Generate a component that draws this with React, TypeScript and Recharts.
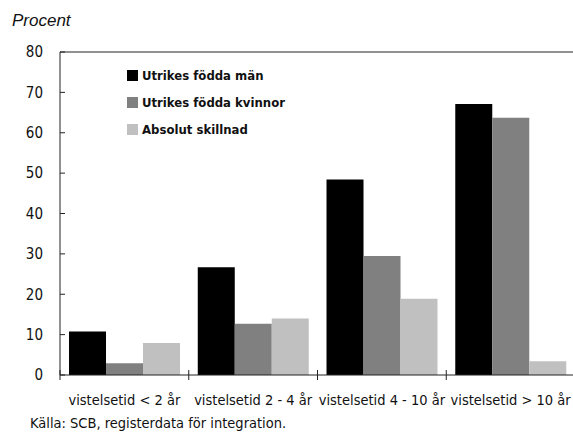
import React from 'react';
import { BarChart, Bar, XAxis, YAxis, Legend, ReferenceLine } from 'recharts';

const categories = ['vistelsetid < 2 år', 'vistelsetid 2 - 4 år', 'vistelsetid 4 - 10 år', 'vistelsetid > 10 år'];
const men = [10.8, 26.7, 48.4, 67.1];
const women = [2.9, 12.7, 29.5, 63.7];
const diff = [7.9, 14.0, 18.9, 3.4];
const yTicks = [0, 10, 20, 30, 40, 50, 60, 70, 80];
const seriesNames = ['Utrikes födda män', 'Utrikes födda kvinnor', 'Absolut skillnad'];
const yTitle = 'Procent';
const source = 'Källa: SCB, registerdata för integration.';

const data = categories.map((c, i) => ({ cat: c, men: men[i], women: women[i], diff: diff[i] }));

const FONT = "'DejaVu Sans Condensed', 'DejaVu Sans', sans-serif";
const AXIS = '#222';

const CatTick = (props: any) => {
  const { x, y, payload } = props;
  const off = payload && typeof payload.offset === 'number' ? payload.offset : 0;
  return (
    <g>
      <line x1={x - off} x2={x - off} y1={y - 5} y2={y + 5} stroke={AXIS} strokeWidth={1} />
      <text x={x} y={y + 30} textAnchor="middle" fontFamily={FONT} fontStretch="condensed" fontSize={14.5} fill="#111">
        {payload.value}
      </text>
    </g>
  );
};

const LegendContent = (props: any) => {
  const items = [...(props.payload || [])].sort(
    (a: any, b: any) => seriesNames.indexOf(a.value) - seriesNames.indexOf(b.value)
  );
  return (
    <div style={{ fontFamily: FONT, fontStretch: 'condensed', fontWeight: 'bold', fontSize: 13, color: '#111' }}>
      {items.map((p: any, i: number) => (
        <div key={i} style={{ display: 'flex', alignItems: 'center', height: 27 }}>
          <span style={{ display: 'inline-block', width: 11, height: 11, background: p.color, marginRight: 4 }} />
          <span>{p.value}</span>
        </div>
      ))}
    </div>
  );
};

export default function App() {
  return (
    <div style={{ position: 'absolute', left: 0, top: 0, width: 573, height: 432, overflow: 'hidden', background: '#fff' }}>
      <div style={{ position: 'absolute', left: 12, top: 11, fontFamily: "'Liberation Sans', Arial, sans-serif", fontStyle: 'italic', fontSize: 17, color: '#111', lineHeight: '20px' }}>
        {yTitle}
      </div>
      <BarChart
        width={576}
        height={432}
        data={data}
        margin={{ top: 52, right: 1, left: 0, bottom: 0 }}
        barCategoryGap="7%"
        barGap={0}
      >
        <XAxis
          dataKey="cat"
          interval={0}
          height={57}
          tickSize={0}
          tickMargin={0}
          tickLine={false}
          axisLine={{ stroke: AXIS }}
          tick={<CatTick />}
        />
        <YAxis
          width={60}
          domain={[0, 80]}
          ticks={yTicks}
          interval={0}
          tickSize={-5}
          tickMargin={22}
          axisLine={{ stroke: AXIS }}
          tickLine={{ stroke: AXIS }}
          tick={{ fontFamily: FONT, fontSize: 15, fill: '#111' }}
        />
        <ReferenceLine y={80} stroke={AXIS} />
        <Legend
          layout="vertical"
          align="center"
          verticalAlign="middle"
          itemSorter={null as any}
          wrapperStyle={{ left: 127, top: 62, width: 220 }}
          content={<LegendContent />}
        />
        <Bar dataKey="men" name={seriesNames[0]} fill="#000000" isAnimationActive={false} />
        <Bar dataKey="women" name={seriesNames[1]} fill="#808080" isAnimationActive={false} />
        <Bar dataKey="diff" name={seriesNames[2]} fill="#c0c0c0" isAnimationActive={false} />
      </BarChart>
      <div style={{ position: 'absolute', left: 30, top: 414, fontFamily: FONT, fontStretch: 'condensed', fontSize: 14.5, color: '#111', lineHeight: '18px', whiteSpace: 'nowrap' }}>
        {source}
      </div>
    </div>
  );
}
